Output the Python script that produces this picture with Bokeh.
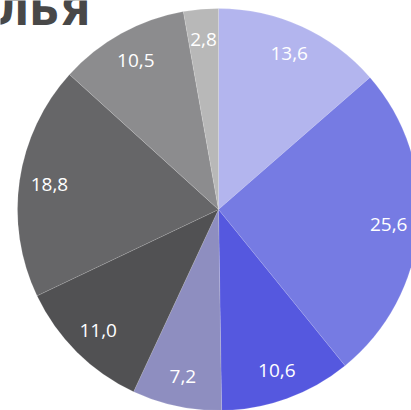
import numpy as np
from bokeh.plotting import figure
from bokeh.models import Range1d, ColumnDataSource
from bokeh.core.properties import value
from bokeh.embed import file_html
from bokeh.resources import INLINE

title_text = "ЖИЛЬЯ"
labels = ["13,6", "25,6", "10,6", "7,2", "11,0", "18,8", "10,5", "2,8"]
values = [13.6, 25.6, 10.6, 7.2, 11.0, 18.8, 10.5, 2.8]
colors = ["#b3b5ee", "#767be3", "#5558df", "#8e8ec0",
          "#515153", "#666668", "#8c8c8e", "#b8b8b8"]

W, H = 411, 410
cx, cy, R = 218, H - 209, 201

vals = np.array(values, dtype=float)
frac = vals / vals.sum()
cum = np.concatenate([[0], np.cumsum(frac)])
start = np.pi / 2 - cum[:-1] * 2 * np.pi
end = np.pi / 2 - cum[1:] * 2 * np.pi
mid = (start + end) / 2
lr = 0.85 * R

src = ColumnDataSource(dict(start=start, end=end, color=colors, label=labels,
                            lx=cx + lr * np.cos(mid), ly=cy + lr * np.sin(mid)))

p = figure(width=W, height=H, output_backend="svg", toolbar_location=None,
           x_range=Range1d(0, W), y_range=Range1d(0, H), min_border=0)
p.margin = (0, 0, 0, 0)
p.axis.visible = False
p.grid.visible = False
p.outline_line_color = None
p.background_fill_color = "white"
p.border_fill_color = "white"

p.wedge(x=cx, y=cy, radius=R, start_angle="start", end_angle="end",
        direction="clock", fill_color="color", line_color="white",
        line_width=0.5, line_alpha=0.25, source=src)

p.text(x="lx", y="ly", text="label", source=src, text_color="white",
       text_font=value("Open Sans"), text_font_size="19px",
       text_align="center", text_baseline="middle")

p.text(x=[90], y=[H - 10], text=[title_text], text_color="#484848",
       text_font=value("DejaVu Sans"), text_font_size="40px",
       text_font_style="bold", text_align="right", text_baseline="alphabetic")

open("out.html", "w").write(file_html(p, INLINE))
